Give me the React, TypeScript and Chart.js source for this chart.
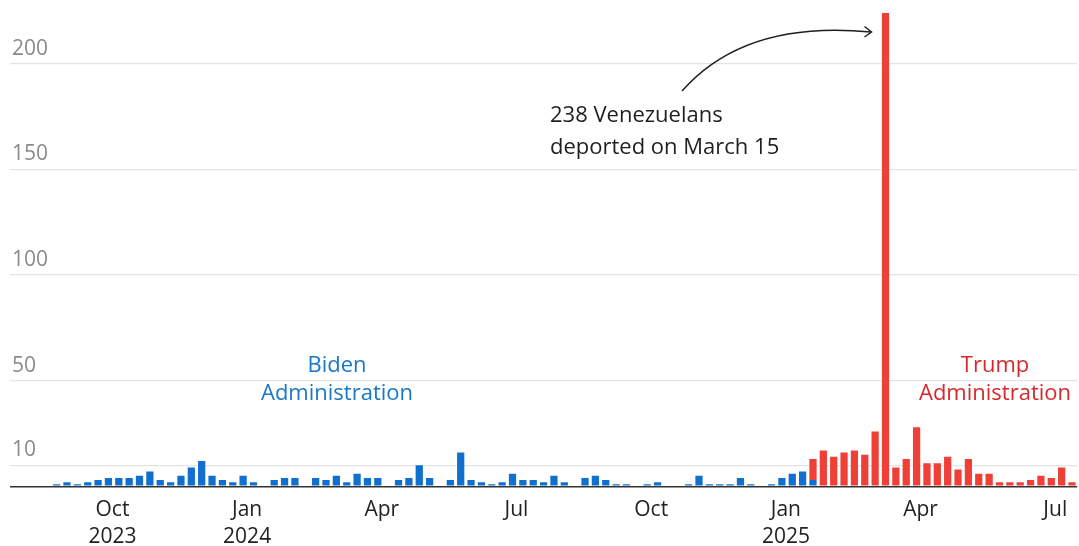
import { useEffect, useRef } from "react";
import { Chart, registerables } from "chart.js";

Chart.register(...registerables);

// Weekly categories (week starting Monday), first week 2023-07-31
const firstWeek = "2023-07-31";
const weekCount = 103;

// Deportations per week, Biden administration (null = no bar)
const bidenValues: (number | null)[] = [
  0, 0, 0, 0,
  1, 2, 1, 2, 3, 4, 4, 4, 5, 7,
  3, 2, 5, 9, 12, 5, 3, 2, 5, 2,
  0, 3, 4, 4, 0, 4, 3, 5, 2, 6,
  4, 4, 0, 3, 4, 10, 4, 0, 3, 16,
  3, 2, 1, 2, 6, 3, 3, 2, 5, 2,
  0, 4, 5, 3, 1, 1, 0, 1, 2, 0,
  0, 1, 5, 1, 1, 1, 4, 1, 0, 1,
  4, 6, 7, 3,
  null, null, null, null, null, null, null, null, null, null,
  null, null, null, null, null, null, null, null, null, null,
  null, null, null, null, null,
];

// Deportations per week, Trump administration (null = no bar)
const trumpValues: (number | null)[] = [
  null, null, null, null, null, null, null, null, null, null,
  null, null, null, null, null, null, null, null, null, null,
  null, null, null, null, null, null, null, null, null, null,
  null, null, null, null, null, null, null, null, null, null,
  null, null, null, null, null, null, null, null, null, null,
  null, null, null, null, null, null, null, null, null, null,
  null, null, null, null, null, null, null, null, null, null,
  null, null, null, null, null, null, null,
  10, 17, 14, 16, 17, 15, 26, 238, 9, 13,
  28, 11, 11, 14, 8, 13, 6, 6, 2, 2,
  2, 3, 5, 4, 9, 2,
];

const yTickValues = [0, 10, 50, 100, 150, 200];
const yMax = 224;

const xTickLabels: Record<string, string | string[]> = {
  "2023-10-02": ["Oct", "2023"],
  "2024-01-01": ["Jan", "2024"],
  "2024-04-01": "Apr",
  "2024-07-01": "Jul",
  "2024-09-30": "Oct",
  "2024-12-30": ["Jan", "2025"],
  "2025-03-31": "Apr",
  "2025-06-30": "Jul",
};

const weeks: string[] = [];
{
  const d0 = new Date(firstWeek + "T00:00:00Z").getTime();
  for (let i = 0; i < weekCount; i++) {
    weeks.push(new Date(d0 + i * 7 * 86400000).toISOString().slice(0, 10));
  }
}

const BLUE = "#1170cf";
const RED = "#ef4038";
const FONT = "'Open Sans', 'Noto Sans', sans-serif";

const annotationPlugin = {
  id: "annotations",
  afterDraw(chart: any) {
    const ctx = chart.ctx as CanvasRenderingContext2D;
    ctx.save();
    // Annotation text
    ctx.font = `22px ${FONT}`;
    ctx.fillStyle = "#1f1f1f";
    ctx.textAlign = "left";
    ctx.textBaseline = "middle";
    ctx.fillText("238 Venezuelans", 550, 116);
    ctx.fillText("deported on March 15", 550, 148);
    // Arrow
    ctx.strokeStyle = "#1f1f1f";
    ctx.lineWidth = 1.5;
    ctx.beginPath();
    ctx.moveTo(682, 91);
    ctx.bezierCurveTo(725, 42, 790, 24, 871, 32);
    ctx.stroke();
    ctx.beginPath();
    ctx.moveTo(864.5, 26.5);
    ctx.lineTo(871.5, 32);
    ctx.lineTo(864.5, 37);
    ctx.stroke();
    // Administration labels
    ctx.textAlign = "center";
    ctx.fillStyle = "#1a78c8";
    ctx.fillText("Biden", 337, 366);
    ctx.fillText("Administration", 337, 394);
    ctx.fillStyle = "#d9282c";
    ctx.fillText("Trump", 995, 366);
    ctx.fillText("Administration", 995, 394);
    ctx.restore();
  },
};

export default function App() {
  const canvasRef = useRef<HTMLCanvasElement | null>(null);

  useEffect(() => {
    const canvas = canvasRef.current;
    if (!canvas) return;
    const chart = new Chart(canvas, {
      type: "bar",
      data: {
        labels: weeks,
        datasets: [
          {
            label: "Biden",
            data: bidenValues,
            backgroundColor: BLUE,
            barPercentage: 0.7,
            categoryPercentage: 1.0,
          },
          {
            label: "Trump",
            data: trumpValues,
            backgroundColor: RED,
            barPercentage: 0.7,
            categoryPercentage: 1.0,
          },
        ],
      },
      options: {
        responsive: false,
        animation: false,
        layout: { padding: { left: 6, right: 0, top: 13, bottom: 0 } },
        plugins: {
          legend: { display: false },
          tooltip: { enabled: false },
        },
        scales: {
          x: {
            stacked: true,
            grid: { display: false, drawTicks: false },
            border: { display: false },
            ticks: {
              autoSkip: false,
              maxRotation: 0,
              minRotation: 0,
              padding: 10,
              labelOffset: 4,
              color: "#222",
              font: { family: FONT, size: 21, lineHeight: 1.3 },
              callback: (_v: any, i: number) => xTickLabels[weeks[i]] ?? "",
            },
          },
          y: {
            stacked: true,
            min: 0,
            max: yMax,
            afterBuildTicks: (axis: any) => {
              axis.ticks = yTickValues.map((v) => ({ value: v }));
            },
            grid: {
              drawTicks: false,
              color: (c: any) => (c.tick && c.tick.value === 0 ? "#333" : "#e4e4e4"),
              lineWidth: (c: any) => (c.tick && c.tick.value === 0 ? 1.6 : 1.3),
            },
            border: { display: false },
            ticks: {
              mirror: true,
              padding: 2,
              labelOffset: -15,
              color: "#8a8a8a",
              font: { family: FONT, size: 21, lineHeight: 1 },
              callback: (v: any) => (v === 0 ? "" : String(v)),
            },
          },
        },
      },
      plugins: [annotationPlugin],
    });
    return () => chart.destroy();
  }, []);

  return (
    <div
      style={{
        position: "fixed",
        left: 0,
        top: 0,
        width: 1079,
        height: 546,
        overflow: "hidden",
        background: "#fff",
      }}
    >
      <canvas ref={canvasRef} width={1082} height={561} style={{ display: "block" }} />
    </div>
  );
}
